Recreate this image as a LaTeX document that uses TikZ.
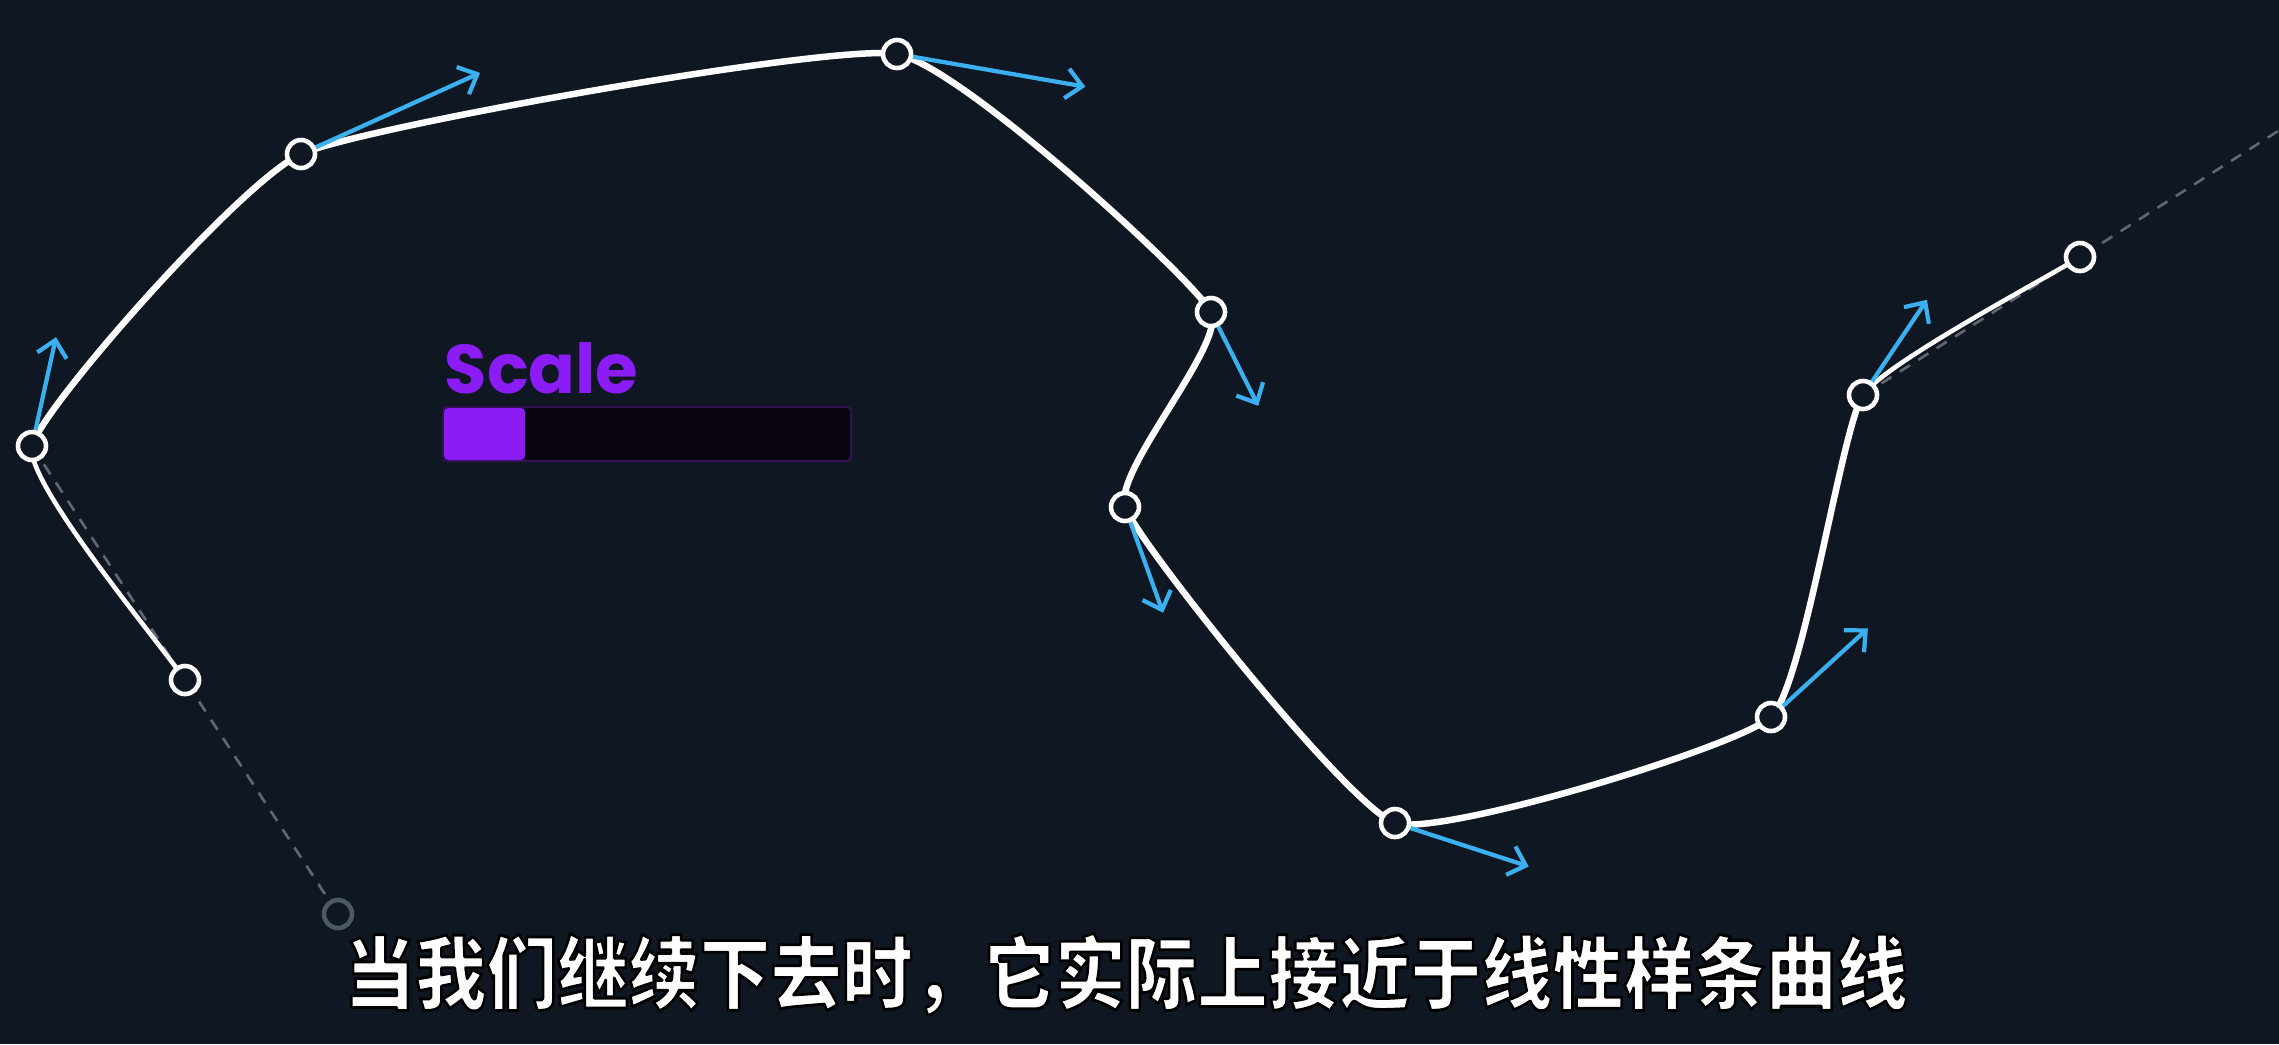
\documentclass[tikz,border=0pt]{standalone}
\usepackage{fontspec}
\newfontfamily\poppins{Poppins}
\newfontfamily\cjk{Noto Sans CJK SC}
\usetikzlibrary{calc,arrows.meta}
\definecolor{bg}{RGB}{15,24,34}
\definecolor{tanblue}{RGB}{58,176,240}
\definecolor{ghost}{RGB}{78,88,98}
\definecolor{dashgray}{RGB}{95,104,114}
\definecolor{scalepurple}{RGB}{140,28,246}
\definecolor{barbg}{RGB}{8,3,13}
\definecolor{barborder}{RGB}{52,16,84}
\newcommand{\kc}{0.069}
\newcommand{\kt}{0.207}
\newcommand{\splineseg}[5]{\draw[#1] (#3) .. controls ($(#3)+\kc*(#4)-\kc*(#2)$) and ($(#4)-\kc*(#5)+\kc*(#3)$) .. (#4);}
\begin{document}
\begin{tikzpicture}[x=0.01cm,y=-0.01cm,
  curve/.style={white,line width=1.85pt,line cap=round},
  curveend/.style={white,line width=1.3pt,line cap=round},
  tangent/.style={tanblue,line width=1.2pt,-{Straight Barb[length=4.5pt,width=8.5pt,line width=1.2pt]}},
  knot/.style={circle,draw=white,fill=bg,line width=1.3pt,minimum size=0.28cm,inner sep=0pt},
  ghostknot/.style={circle,draw=ghost,fill=bg,line width=1.3pt,minimum size=0.28cm,inner sep=0pt},
  guide/.style={dashgray,line width=0.75pt,dash pattern=on 3.4pt off 2.8pt}]
\fill[bg] (0,0) rectangle (2279,1044);
\useasboundingbox (0,0) rectangle (2279,1044);
\clip (0,0) rectangle (2279,1044);
% knots
\coordinate (P0) at (338,914);
\coordinate (P1) at (185,680);
\coordinate (P2) at (32,446);
\coordinate (P3) at (301,154);
\coordinate (P4) at (897,54);
\coordinate (P5) at (1211,312);
\coordinate (P6) at (1125,507);
\coordinate (P7) at (1395,823);
\coordinate (P8) at (1771,717);
\coordinate (P9) at (1863,395);
\coordinate (P10) at (2080,257);
\coordinate (P11) at (2297,119);
% tangent tips
\coordinate (T2) at ($(P2)+\kt*(P3)-\kt*(P1)$);
\coordinate (T3) at ($(P3)+\kt*(P4)-\kt*(P2)$);
\coordinate (T4) at ($(P4)+\kt*(P5)-\kt*(P3)$);
\coordinate (T5) at ($(P5)+\kt*(P6)-\kt*(P4)$);
\coordinate (T6) at ($(P6)+\kt*(P7)-\kt*(P5)$);
\coordinate (T7) at ($(P7)+\kt*(P8)-\kt*(P6)$);
\coordinate (T8) at ($(P8)+\kt*(P9)-\kt*(P7)$);
\coordinate (T9) at ($(P9)+\kt*(P10)-\kt*(P8)$);
% guides
\draw[guide] (P2) -- (P0);
\draw[guide] (P9) -- (P11);
% spline
\splineseg{curveend}{P0}{P1}{P2}{P3}
\splineseg{curve}{P1}{P2}{P3}{P4}
\splineseg{curve}{P2}{P3}{P4}{P5}
\splineseg{curve}{P3}{P4}{P5}{P6}
\splineseg{curve}{P4}{P5}{P6}{P7}
\splineseg{curve}{P5}{P6}{P7}{P8}
\splineseg{curve}{P6}{P7}{P8}{P9}
\splineseg{curve}{P7}{P8}{P9}{P10}
\splineseg{curveend}{P8}{P9}{P10}{P11}
% tangents
\foreach \i in {2,...,9} {\draw[tangent] (P\i) -- (T\i);}
% knot circles
\node[ghostknot] (K0) at (P0) {};
\foreach \i in {1,...,10} {\node[knot] (K\i) at (P\i) {};}
% scale widget
\node[anchor=base west,inner sep=0pt,text=scalepurple,font=\poppins\bfseries\fontsize{19.6pt}{20pt}\selectfont] (scalelabel) at (444,393) {Scale};
\draw[barborder,fill=barbg,line width=0.6pt,rounded corners=1.2pt] (443,407) rectangle (851,461);
\fill[scalepurple,rounded corners=1.2pt] (444,408) rectangle (525,460);
% caption
\node[anchor=base,inner sep=0pt,text=white,xscale=0.888,transform shape,font=\cjk\bfseries\fontsize{22.76pt}{24pt}\selectfont] (caption) at (1126,1003) {\special{pdf:code 0 G 0.8 w 1 j 2 Tr}当我们继续下去时，它实际上接近于线性样条曲线\special{pdf:code 0 Tr}};
\end{tikzpicture}
\end{document}
